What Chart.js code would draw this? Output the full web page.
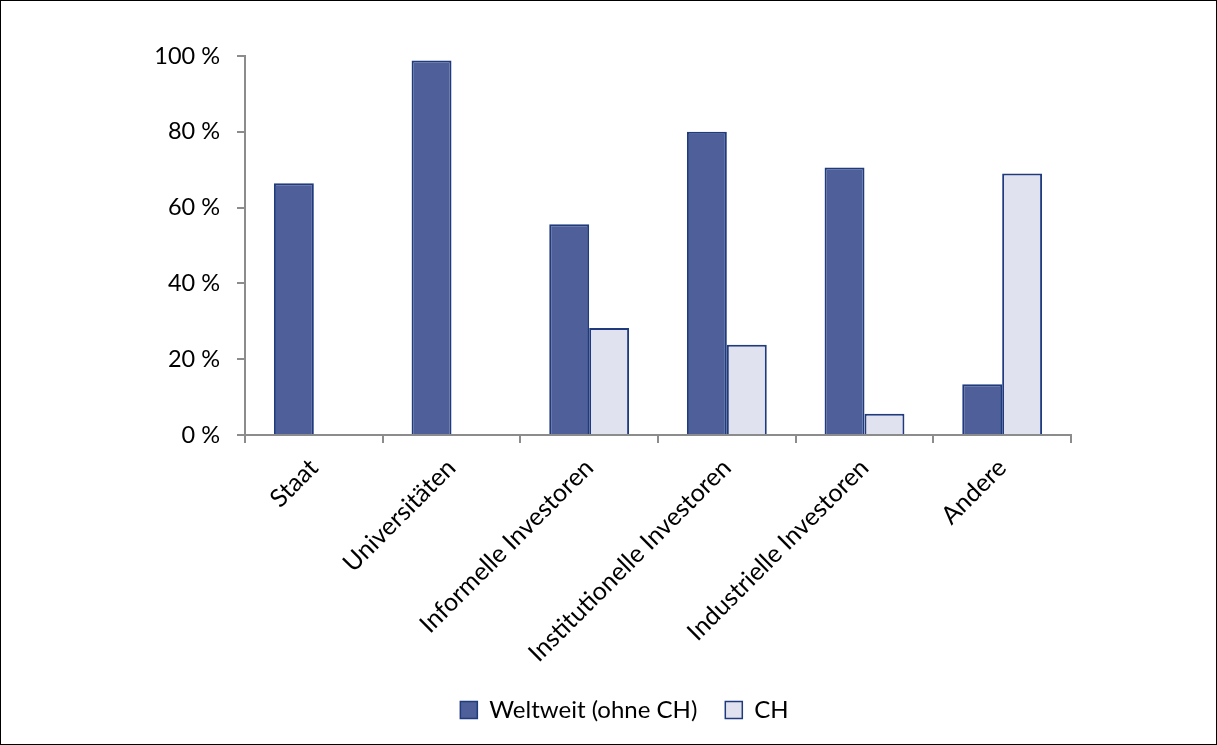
<!DOCTYPE html>
<html>
<head>
<meta charset="utf-8">
<script src="https://cdn.jsdelivr.net/npm/chart.js@4"></script>
<style>
  html, body { margin: 0; padding: 0; background: #fff; }
  .frame {
    width: 1217px;
    height: 745px;
    box-sizing: border-box;
    border: 1px solid #000;
  }
  canvas { display: block; }
</style>
</head>
<body>
<div class="frame">
  <canvas id="chartFunding" width="1215" height="743"></canvas>
</div>
<script>
// categories and shares (%)
const categories = [
    "Staat",
    "Universitäten",
    "Informelle Investoren",
    "Institutionelle Investoren",
    "Industrielle Investoren",
    "Andere",
];
const weltweitValues = [66.4, 98.8, 55.6, 80.0, 70.6, 13.4];
const chValues = [null, null, 28.2, 23.8, 5.6, 69.0];
const yTicks = [0, 20, 40, 60, 80, 100];

const fontFamily = "Lato, 'Open Sans', sans-serif";
const axisGray = "#8c8c8c";

const chartFunding = document.getElementById("chartFunding");

const chartFundingCanvas = new Chart(chartFunding, {
    type: "bar",
    data: {
        labels: categories,
        datasets: [
            {
                label: "Weltweit (ohne CH)",
                data: weltweitValues,
                backgroundColor: "#4e5f99",
                borderColor: "#1f3a7d",
                borderWidth: 2,
                borderSkipped: "bottom",
                categoryPercentage: 0.58,
                barPercentage: 1.0,
            },
            {
                label: "CH",
                data: chValues,
                backgroundColor: "#e1e2ef",
                borderColor: "#1f3a7d",
                borderWidth: 2,
                borderSkipped: "bottom",
                categoryPercentage: 0.58,
                barPercentage: 1.0,
            },
        ],
    },
    options: {
        responsive: false,
        animation: false,
        devicePixelRatio: 1,
        layout: {
            padding: { left: 32, right: 0, top: 55, bottom: 12 },
        },
        plugins: {
            tooltip: { enabled: false },
            legend: {
                position: "bottom",
                labels: {
                    font: { family: fontFamily, size: 24 },
                    color: "#000",
                    boxWidth: 17,
                    boxHeight: 17,
                    padding: 28,
                    generateLabels: (chart) =>
                        chart.data.datasets.map((ds, i) => ({
                            text: ds.label,
                            fillStyle: ds.backgroundColor,
                            strokeStyle: ds.borderColor,
                            lineWidth: 1.5,
                            datasetIndex: i,
                            fontColor: "#000",
                        })),
                },
            },
        },
        scales: {
            x: {
                grid: {
                    display: true,
                    drawOnChartArea: false,
                    drawTicks: true,
                    tickLength: 8,
                    color: axisGray,
                    lineWidth: 2,
                    offset: true,
                },
                border: { color: axisGray, width: 2 },
                ticks: {
                    font: { family: fontFamily, size: 25 },
                    color: "#000",
                    minRotation: 45,
                    maxRotation: 45,
                    autoSkip: false,
                    padding: 10,
                },
                afterFit: (scale) => {
                    scale.height = 235;
                },
            },
            y: {
                min: 0,
                max: 100,
                afterBuildTicks: (scale) => {
                    scale.ticks = yTicks.map((v) => ({ value: v }));
                },
                grid: {
                    display: true,
                    drawOnChartArea: false,
                    drawTicks: true,
                    tickLength: 8,
                    color: axisGray,
                    lineWidth: 2,
                },
                border: { color: axisGray, width: 2 },
                ticks: {
                    font: { family: fontFamily, size: 23.5 },
                    color: "#000",
                    padding: 17,
                    callback: (value) => value + " %",
                },
                afterFit: (scale) => {
                    scale.width = 212;
                },
            },
            // empty right margin so the plot ends before the frame edge
            spacer: {
                type: "linear",
                position: "right",
                min: 0,
                max: 1,
                grid: { display: false },
                border: { display: false },
                ticks: { display: false },
                afterFit: (scale) => {
                    scale.width = 145;
                },
            },
        },
    },
});
</script>
</body>
</html>
